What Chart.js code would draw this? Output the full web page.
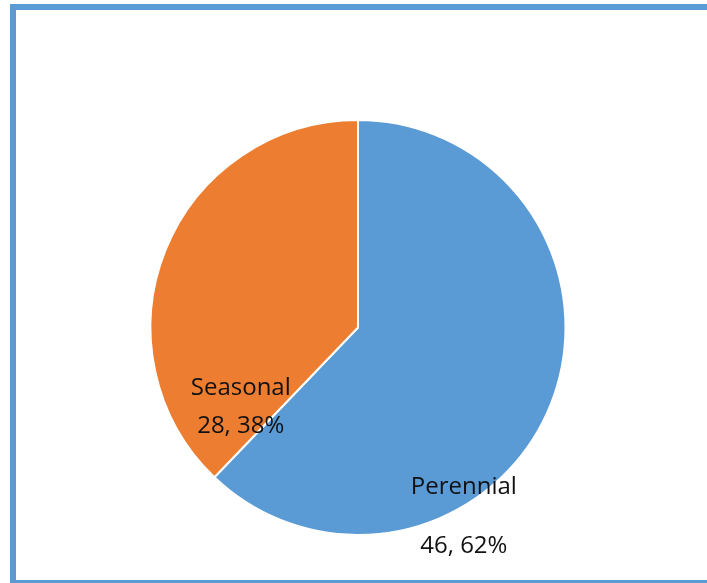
<!DOCTYPE html>
<html>
<head>
<meta charset="utf-8">
<script src="https://cdn.jsdelivr.net/npm/chart.js@4.4.1/dist/chart.umd.min.js"></script>
<style>
  html, body { margin: 0; padding: 0; background: #fff; overflow: hidden; }
  #wrap { position: relative; width: 707px; height: 583px; }
  #frame {
    position: absolute; left: 10px; top: 4px; width: 720px; height: 582px;
    box-sizing: border-box; border: 6px solid #5b9bd5; pointer-events: none;
  }
  canvas { position: absolute; left: 0; top: 0; }
</style>
</head>
<body>
<div id="wrap">
  <canvas id="pie" width="707" height="583"></canvas>
  <div id="frame"></div>
</div>
<script>
const categories = ["Perennial", "Seasonal"];
const counts = [46, 28];
const percentLabels = ["62%", "38%"];
const sliceColors = ["#5b9bd5", "#ed7d31"];

// where each label block sits, as a fraction of the radius from the centre
const labelSpots = [
  { dx: 0.51, dy: 0.91, gap: 59 },
  { dx: -0.565, dy: 0.385, gap: 38 }
];

const sliceLabels = {
  id: "sliceLabels",
  afterDatasetsDraw(chart) {
    const ctx = chart.ctx;
    const arcs = chart.getDatasetMeta(0).data;
    ctx.save();
    ctx.font = '24px "Open Sans", sans-serif';
    ctx.fillStyle = "#111";
    ctx.textAlign = "center";
    ctx.textBaseline = "middle";
    arcs.forEach((arc, i) => {
      const spot = labelSpots[i];
      const x = arc.x + spot.dx * arc.outerRadius;
      const y = arc.y + spot.dy * arc.outerRadius;
      ctx.fillText(categories[i], x, y - spot.gap / 2);
      ctx.fillText(counts[i] + ", " + percentLabels[i], x, y + spot.gap / 2);
    });
    ctx.restore();
  }
};

new Chart(document.getElementById("pie"), {
  type: "pie",
  data: {
    labels: categories,
    datasets: [{
      data: counts,
      backgroundColor: sliceColors,
      borderColor: "#ffffff",
      borderWidth: 2
    }]
  },
  options: {
    responsive: false,
    animation: false,
    layout: { padding: { left: 9, right: 0, top: 119, bottom: 47 } },
    plugins: {
      legend: { display: false },
      tooltip: { enabled: false }
    }
  },
  plugins: [sliceLabels]
});
</script>
</body>
</html>
